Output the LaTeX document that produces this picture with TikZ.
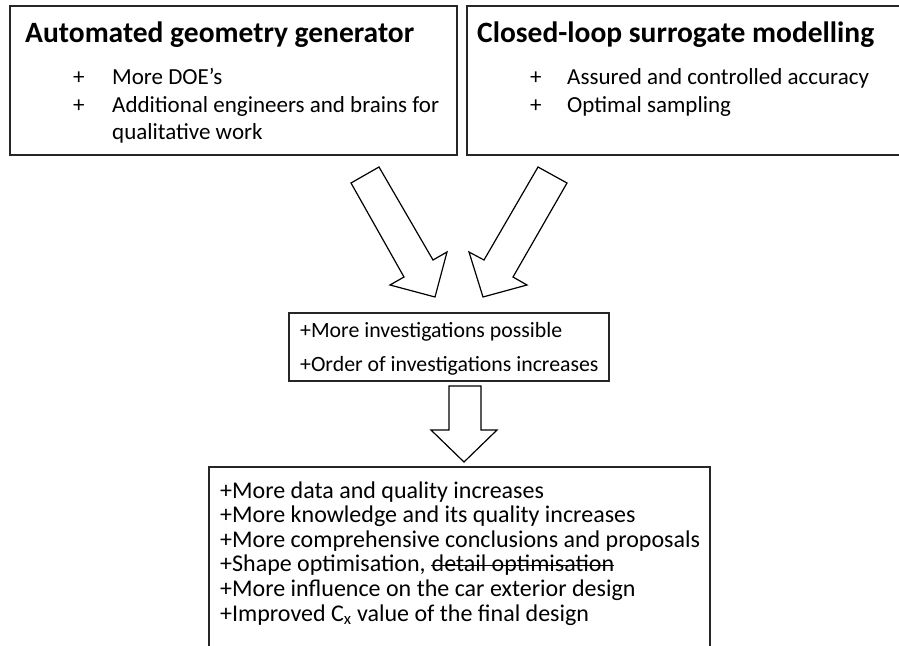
\documentclass[tikz,border=0pt]{standalone}
\usepackage{fontspec}
\setmainfont{Carlito}
\begin{document}
\begin{tikzpicture}[x=1pt,y=-1pt,
  box/.style={draw=black!85,line width=1.2pt,inner sep=0pt},
  txt/.style={anchor=base west,inner sep=0pt,font=\fontsize{24}{28}\selectfont},
  btxt/.style={anchor=base west,inner sep=0pt,font=\fontsize{23}{27}\selectfont},
  mtxt/.style={anchor=base west,inner sep=0pt,font=\fontsize{21.8}{26}\selectfont},
  ttl/.style={anchor=base west,inner sep=0pt,font=\fontsize{29.5}{34}\selectfont\bfseries},
  barrow/.style={draw=black,line width=1.2pt,fill=white,line join=miter}]
\useasboundingbox (0,0) rectangle (899,645);
% boxes
\node[box,minimum width=447pt,minimum height=149pt] (boxA) at (233.5,80.5) {};
\node[box,minimum width=450pt,minimum height=149pt] (boxB) at (692,80.5) {};
\node[box,minimum width=320pt,minimum height=68pt] (boxC) at (449,347) {};
\node[box,minimum width=501pt,minimum height=200pt] (boxD) at (459.5,567) {};
% texts box A
\node[ttl] (tA) at (25,42) {Automated geometry generator};
\node[btxt] (pA1) at (73,84.5) {+};
\node[btxt] (lA1) at (112,84.5) {More DOE’s};
\node[btxt] (pA2) at (73,112.5) {+};
\node[btxt] (lA2) at (112,112.5) {Additional engineers and brains for};
\node[btxt] (lA3) at (112,139.5) {qualitative work};
% texts box B
\node[ttl] (tB) at (477,42) {Closed-loop surrogate modelling};
\node[btxt] (pB1) at (530,84.5) {+};
\node[btxt] (lB1) at (567,84.5) {Assured and controlled accuracy};
\node[btxt] (pB2) at (530,112.5) {+};
\node[btxt] (lB2) at (567,112.5) {Optimal sampling};
% box C
\node[mtxt] (lC1) at (300,337) {+More investigations possible};
\node[mtxt] (lC2) at (300,371) {+Order of investigations increases};
% box D
\node[txt] (lD1) at (220,498) {+More data and quality increases};
\node[txt] (lD2) at (220,522.6) {+More knowledge and its quality increases};
\node[txt] (lD3) at (220,547.2) {+More comprehensive conclusions and proposals};
\node[txt] (lD4) at (220,571.8) {+Shape optimisation,};
\node[txt,xshift=5.5pt] (lD4b) at (lD4.base east) {detail optimisation};
\draw[line width=1.1pt] ([yshift=6.3pt]lD4b.base west) -- ([yshift=6.3pt]lD4b.base east);
\node[txt] (lD5) at (220,596.4) {+More influence on the car exterior design};
\node[txt] (lD6) at (220,621) {+Improved C\textsubscript{x} value of the final design};
% block arrows
\draw[barrow] (351,183) -- (379,167) -- (433,260) -- (447,252) -- (435,297) -- (390,285) -- (404,277) -- cycle;
\draw[barrow] (538,167) -- (567,183) -- (513,277) -- (527,285) -- (483,297) -- (469,252) -- (484,260) -- cycle;
\draw[barrow] (449,386) -- (481,386) -- (481,430) -- (497,430) -- (464,462) -- (431,430) -- (449,430) -- cycle;
\end{tikzpicture}
\end{document}
